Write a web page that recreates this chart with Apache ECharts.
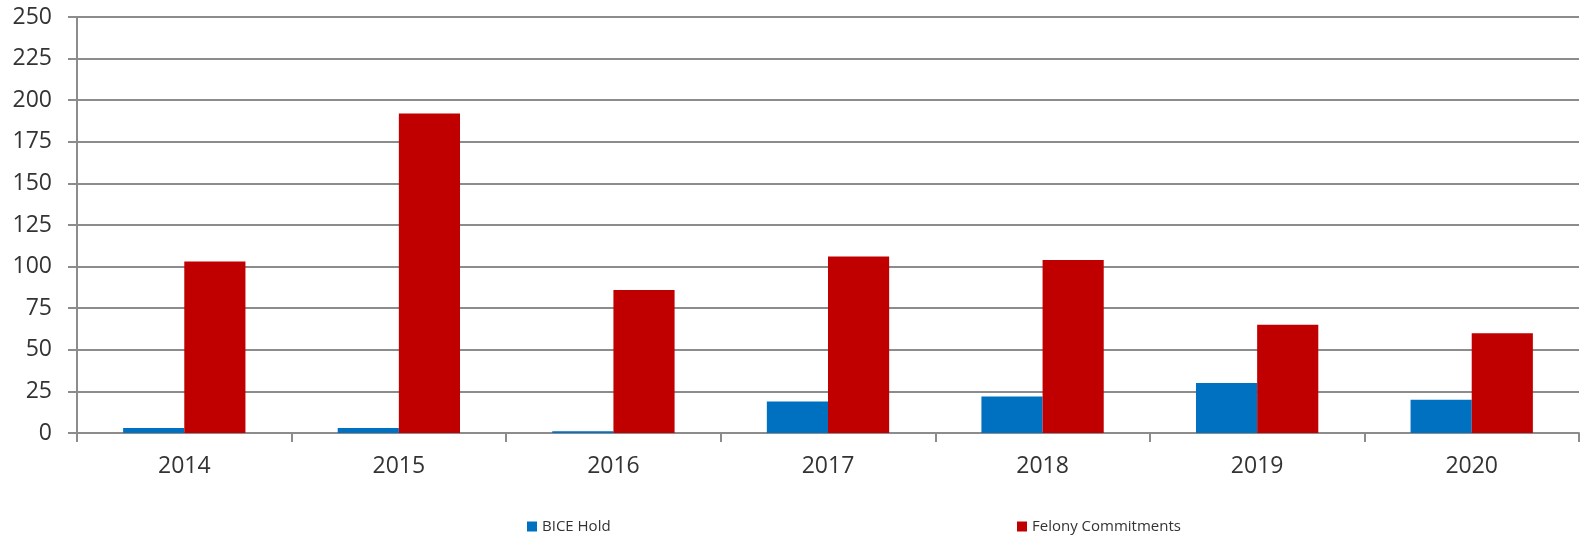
<!DOCTYPE html>
<html>
<head>
<meta charset="utf-8">
<script src="https://cdn.jsdelivr.net/npm/echarts@6/dist/echarts.min.js"></script>
<style>
html,body{margin:0;padding:0;background:#fff;}
#chart{width:1580px;height:538px;}
</style>
</head>
<body>
<div id="chart"></div>
<script>
const categories = ['2014','2015','2016','2017','2018','2019','2020'];
const biceHold = [3, 3, 1, 19, 22, 30, 20];
const felonyCommitments = [103, 192, 86, 106, 104, 65, 60];
const seriesNames = ['BICE Hold', 'Felony Commitments'];

const gray = '#8c8c8c';
const font = '"Open Sans", "Liberation Sans", sans-serif';
const chart = echarts.init(document.getElementById('chart'));
chart.setOption({
  animation: false,
  backgroundColor: '#fff',
  grid: { left: 77, right: 1, top: 17, bottom: 105, containLabel: false },
  legend: [
    { data: [seriesNames[0]], left: 522, top: 514, itemWidth: 10, itemHeight: 10, itemGap: 4,
      icon: 'rect', textStyle: { fontFamily: font, fontSize: 15, color: '#333' } },
    { data: [seriesNames[1]], left: 1012, top: 514, itemWidth: 10, itemHeight: 10, itemGap: 4,
      icon: 'rect', textStyle: { fontFamily: font, fontSize: 15, color: '#333' } }
  ],
  xAxis: {
    type: 'category',
    data: categories,
    axisLine: { show: true, lineStyle: { color: gray, width: 2 } },
    axisTick: { show: true, length: 9, lineStyle: { color: gray, width: 2 } },
    axisLabel: { fontFamily: font, fontSize: 23, color: '#333', margin: 22 }
  },
  yAxis: {
    type: 'value',
    min: 0, max: 250, interval: 25,
    axisLine: { show: true, lineStyle: { color: gray, width: 2 } },
    axisTick: { show: true, length: 9, lineStyle: { color: gray, width: 2 } },
    axisLabel: { fontFamily: font, fontSize: 23, color: '#333', margin: 25 },
    splitLine: { show: true, lineStyle: { color: gray, width: 2 } }
  },
  series: [
    { name: seriesNames[0], type: 'bar', data: biceHold, barGap: '0%', barCategoryGap: '43%',
      itemStyle: { color: '#0070C0' } },
    { name: seriesNames[1], type: 'bar', data: felonyCommitments, barGap: '0%', barCategoryGap: '43%',
      itemStyle: { color: '#C00000' } }
  ]
});
</script>
</body>
</html>
